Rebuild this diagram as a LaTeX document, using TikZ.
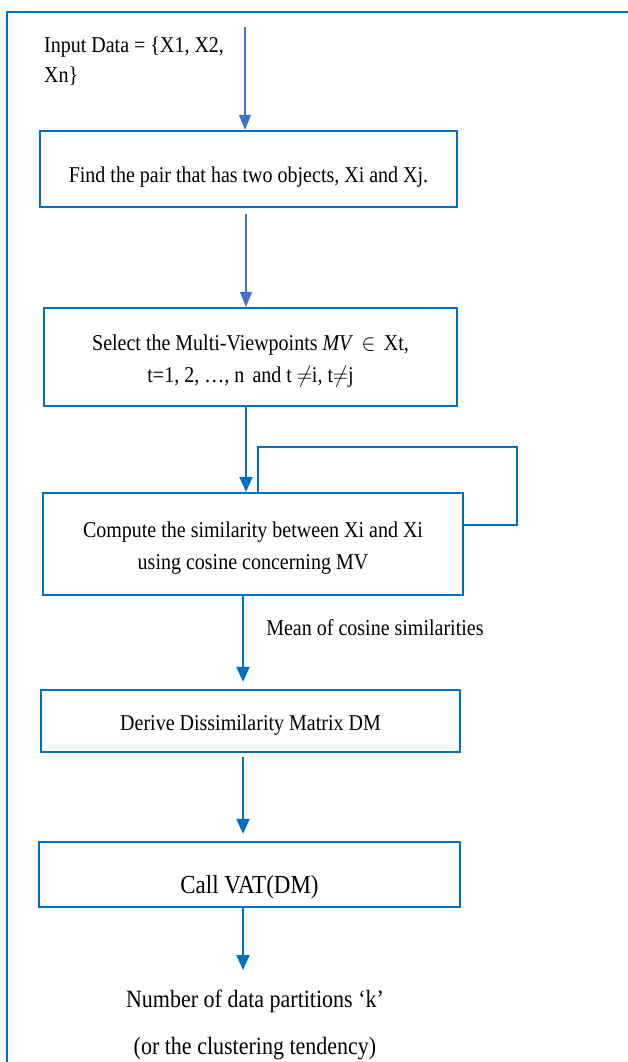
\documentclass[tikz,border=0pt]{standalone}
\usepackage{graphicx}
\usepackage{fontspec}
\setmainfont{Liberation Serif}
\usetikzlibrary{arrows.meta}
\definecolor{boxblue}{HTML}{0070C0}
\definecolor{lineblue}{HTML}{4472C4}
\newcommand{\tall}[1]{\scalebox{1}[1.13]{#1}}
\begin{document}
\begin{tikzpicture}[x=1pt,y=-1pt,
  procbox/.style={draw=boxblue,line width=2.2pt,inner sep=0pt},
  boxtext/.style={inner sep=0pt,align=center,font=\fontsize{20}{32}\selectfont},
  thinflow/.style={lineblue,line width=1.3pt,-{Triangle[length=15pt,width=12pt]}},
  flow/.style={boxblue,line width=2pt,-{Triangle[length=15pt,width=13pt]}}]
\useasboundingbox (0,0) rectangle (628,1062);
\clip (0,0) rectangle (628,1062);
\draw[boxblue,line width=2pt] (7,12) rectangle (660,1100);

\node[anchor=north west,align=left,inner sep=0pt,font=\fontsize{20}{30}\selectfont] (input) at (44,37) {\tall{Input Data = \{X1, X2,}\\\tall{Xn\}}};
\node[procbox,minimum width=417pt,minimum height=76pt] (pair) at (248.5,169) {};
\node[procbox,minimum width=413pt,minimum height=98pt] (select) at (250.5,357) {};
\node[procbox,minimum width=420pt,minimum height=102pt] (compute) at (253,544) {};
\node[procbox,minimum width=419pt,minimum height=62pt] (derive) at (250.5,721) {};
\node[procbox,minimum width=421pt,minimum height=65pt] (vat) at (249.5,874.5) {};

\node[boxtext] (pairtext) at ([yshift=-8pt]pair.center) {\tall{Find the pair that has two objects, Xi and Xj.}};
\node[boxtext] (selecttext) at ([yshift=-4pt]select.center) {\tall{Select the Multi-Viewpoints \textit{MV}\, $\in$\, Xt,}\\\tall{t=1, 2, \ldots, n\, and t $\neq$i, t$\neq$j}};
\node[boxtext] (computetext) at ([yshift=-4pt]compute.center) {\tall{Compute the similarity between Xi and Xi}\\\tall{using cosine concerning MV}};
\node[boxtext] (derivetext) at ([yshift=-4pt]derive.center) {\tall{Derive Dissimilarity Matrix DM}};
\node[boxtext,font=\fontsize{23}{26}\selectfont] (vattext) at (249.5,887) {\tall{Call VAT(DM)}};
\node[anchor=north,align=center,inner sep=0pt,font=\fontsize{22}{47}\selectfont] (result) at (255,990) {\tall{Number of data partitions ‘k’}\\\tall{(or the clustering tendency)}};

\coordinate (start) at (245,27);
\coordinate (loopcorner) at (517,447);

\draw[thinflow] (start) -- (start |- pair.north);
\draw[thinflow] ([xshift=-2.5pt,yshift=-6pt]pair.south) -- ([xshift=-2.5pt]pair.south |- select.north);
\draw[flow] ([xshift=-4.5pt]select.south) -- ([xshift=-4.5pt]select.south |- compute.north);
\draw[boxblue,line width=2pt] ([xshift=5pt]compute.north) |- (loopcorner) |- ([yshift=19pt]compute.east);
\draw[flow] ([xshift=-10pt]compute.south) -- node[pos=0.37,right=19pt,font=\fontsize{20}{24}\selectfont,text=black] {\tall{Mean of cosine similarities}} ([xshift=-10pt,yshift=7pt]compute.south |- derive.north);
\draw[flow] ([xshift=-7.5pt,yshift=-4pt]derive.south) -- ([xshift=-7.5pt,yshift=7pt]derive.south |- vat.north);
\draw[flow] ([xshift=-6.5pt]vat.south) -- ([xshift=-6.5pt,yshift=20pt]vat.south |- result.north);
\end{tikzpicture}
\end{document}
